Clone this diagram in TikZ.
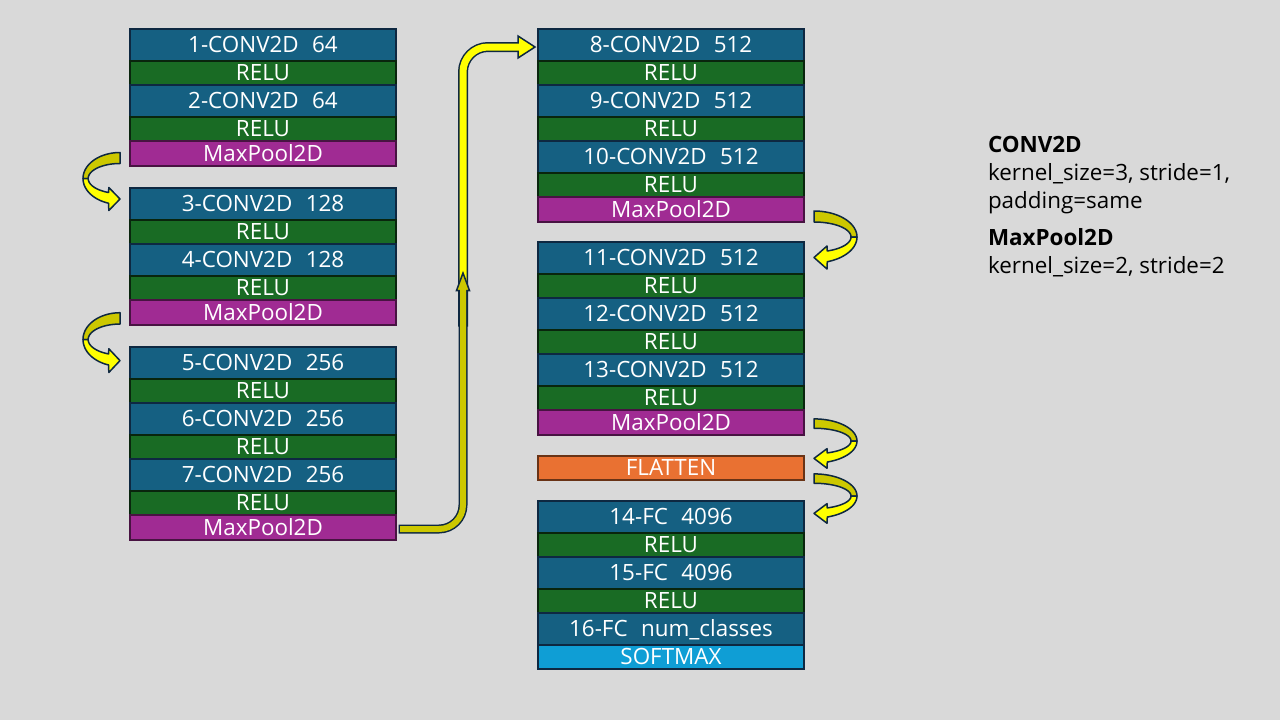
\documentclass[tikz,border=0pt]{standalone}
\usepackage{fontspec}
\setmainfont{Open Sans}
\usetikzlibrary{calc}
\definecolor{bgc}{HTML}{D9D9D9}
\definecolor{convc}{HTML}{156082}
\definecolor{reluc}{HTML}{196B24}
\definecolor{poolc}{HTML}{A02B93}
\definecolor{flatc}{HTML}{E97132}
\definecolor{softc}{HTML}{0F9ED5}
\definecolor{navy}{HTML}{0E2841}
\definecolor{ydark}{HTML}{CCC800}
\definecolor{ybright}{HTML}{FFFF00}
\tikzset{
 layer/.style={rectangle, minimum width=266pt, inner sep=0pt, outer sep=0pt, line width=2pt,
   text=white, font=\fontsize{22.4}{24}\selectfont, text height=15.7pt, text depth=0pt, anchor=north},
 convbox/.style={layer, fill=convc, draw=navy, minimum height=32pt},
 relubox/.style={layer, fill=reluc, draw=reluc!35!black, minimum height=24pt},
 poolbox/.style={layer, fill=poolc, draw=poolc!45!black, minimum height=25pt},
 flatbox/.style={layer, fill=flatc, draw=flatc!45!black, minimum height=24pt},
 softbox/.style={layer, fill=softc, draw=navy, minimum height=24pt},
 legendtxt/.style={anchor=base west, inner sep=0pt, outer sep=0pt, text=black, font=\fontsize{22.4}{28}\selectfont},
 legendhead/.style={legendtxt, font=\fontsize{22.4}{28}\selectfont\bfseries},
 rline/.style={draw=navy, line width=1.5pt, line join=round},
 ribbon/.pic={
   \filldraw[rline, fill=ydark] plot[domain=-90:0, samples=30] ({43*cos(\x)},{26*sin(\x)})
     -- plot[domain=0:-90, samples=30] ({37*cos(\x)},{15*sin(\x)}) -- cycle;
   \filldraw[rline, fill=ybright] plot[domain=0:72, samples=30] ({43*cos(\x)},{26*sin(\x)})
     -- (13,32) -- (0,20.5) -- (13,9)
     -- plot[domain=69:0, samples=30] ({37*cos(\x)},{15*sin(\x)}) -- cycle;
 },
}
\newcommand{\gapsp}{\hspace{0.6em}}
\begin{document}
\begin{tikzpicture}[x=1pt,y=-1pt]
\fill[bgc] (0,0) rectangle (1280,720);
\useasboundingbox (0,0) rectangle (1280,720);

% left column
\node[convbox] (c1) at (263,29) {1-CONV2D\gapsp 64};
\node[relubox] (r1) at (c1.south) {RELU};
\node[convbox] (c2) at (r1.south) {2-CONV2D\gapsp 64};
\node[relubox] (r2) at (c2.south) {RELU};
\node[poolbox] (p1) at (r2.south) {MaxPool2D};

\node[convbox] (c3) at (263,188) {3-CONV2D\gapsp 128};
\node[relubox] (r3) at (c3.south) {RELU};
\node[convbox] (c4) at (r3.south) {4-CONV2D\gapsp 128};
\node[relubox] (r4) at (c4.south) {RELU};
\node[poolbox] (p2) at (r4.south) {MaxPool2D};

\node[convbox] (c5) at (263,347) {5-CONV2D\gapsp 256};
\node[relubox] (r5) at (c5.south) {RELU};
\node[convbox] (c6) at (r5.south) {6-CONV2D\gapsp 256};
\node[relubox] (r6) at (c6.south) {RELU};
\node[convbox] (c7) at (r6.south) {7-CONV2D\gapsp 256};
\node[relubox] (r7) at (c7.south) {RELU};
\node[poolbox] (p3) at (r7.south) {MaxPool2D};

% right column
\node[convbox] (c8) at (671,29) {8-CONV2D\gapsp 512};
\node[relubox] (r8) at (c8.south) {RELU};
\node[convbox] (c9) at (r8.south) {9-CONV2D\gapsp 512};
\node[relubox] (r9) at (c9.south) {RELU};
\node[convbox] (c10) at (r9.south) {10-CONV2D\gapsp 512};
\node[relubox] (r10) at (c10.south) {RELU};
\node[poolbox] (p4) at (r10.south) {MaxPool2D};

\node[convbox] (c11) at (671,242) {11-CONV2D\gapsp 512};
\node[relubox] (r11) at (c11.south) {RELU};
\node[convbox] (c12) at (r11.south) {12-CONV2D\gapsp 512};
\node[relubox] (r12) at (c12.south) {RELU};
\node[convbox] (c13) at (r12.south) {13-CONV2D\gapsp 512};
\node[relubox] (r13) at (c13.south) {RELU};
\node[poolbox] (p5) at (r13.south) {MaxPool2D};

\node[flatbox] (fl) at (671,456) {FLATTEN};

\node[convbox] (f14) at (671,501) {14-FC\gapsp 4096};
\node[relubox] (r14) at (f14.south) {RELU};
\node[convbox] (f15) at (r14.south) {15-FC\gapsp 4096};
\node[relubox] (r15) at (f15.south) {RELU};
\node[convbox] (f16) at (r15.south) {16-FC\gapsp num\_classes};
\node[softbox] (sm) at (f16.south) {SOFTMAX};

% legend
\node[legendhead] (lg1) at (988,152) {CONV2D};
\node[legendtxt] (lg2) at (988,180) {kernel\_size=3, stride=1,};
\node[legendtxt] (lg3) at (988,208) {padding=same};
\node[legendhead] (lg4) at (988,245) {MaxPool2D};
\node[legendtxt] (lg5) at (988,273) {kernel\_size=2, stride=2};

% curved ribbon arrows between blocks
\pic[xscale=-0.86] at ($(p1.south west)!0.5!(c3.north west)+(-10,1.5)$) {ribbon};
\pic[xscale=-0.86, yscale=1.03] at ($(p2.south west)!0.5!(c5.north west)+(-10,3.5)$) {ribbon};
\pic at ($(p4.south east)!0.5!(c11.north east)+(10,5)$) {ribbon};
\pic[yscale=0.85] at ($(p5.south east)!0.5!(fl.north east)+(10,-4.5)$) {ribbon};
\pic[yscale=0.85] at ($(fl.south east)!0.5!(f14.north east)+(10,5.5)$) {ribbon};

% long arrow: p3 -> c8
\coordinate (vx) at (463,0);
\coordinate (ustart) at (463,325);
\coordinate (uy) at ($(c8.west)+(0,2)$);
\coordinate (ubase) at ($(uy)+(-20,0)$);
\coordinate (utip) at ($(uy)+(-3,0)$);
% upper (bright) part
\draw[navy, line width=10pt, rounded corners=25pt] ($(ustart)+(0,1.5)$) -- (vx |- uy) -- (ubase);
\filldraw[rline, line join=miter, fill=ybright] ($(ubase)+(0,-11)$) -- (utip) -- ($(ubase)+(0,11)$) -- cycle;
\draw[ybright, line width=7pt, rounded corners=25pt] (ustart) -- (vx |- uy) -- ($(ubase)+(1.5,0)$);
% lower (dark) part
\coordinate (lstart) at ($(p3.east)+(4,1.5)$);
\coordinate (lbase) at (463,290.5);
\coordinate (ltip) at (463,273);
\draw[navy, line width=9pt, rounded corners=24pt] ($(lstart)+(-1.5,0)$) -- (lstart -| vx) -- (lbase);
\filldraw[rline, line join=miter, fill=ydark] ($(lbase)+(-6.5,0)$) -- (ltip) -- ($(lbase)+(6.5,0)$) -- cycle;
\draw[ydark, line width=6pt, rounded corners=24pt] (lstart) -- (lstart -| vx) -- ($(lbase)+(0,-1.5)$);
\end{tikzpicture}
\end{document}
